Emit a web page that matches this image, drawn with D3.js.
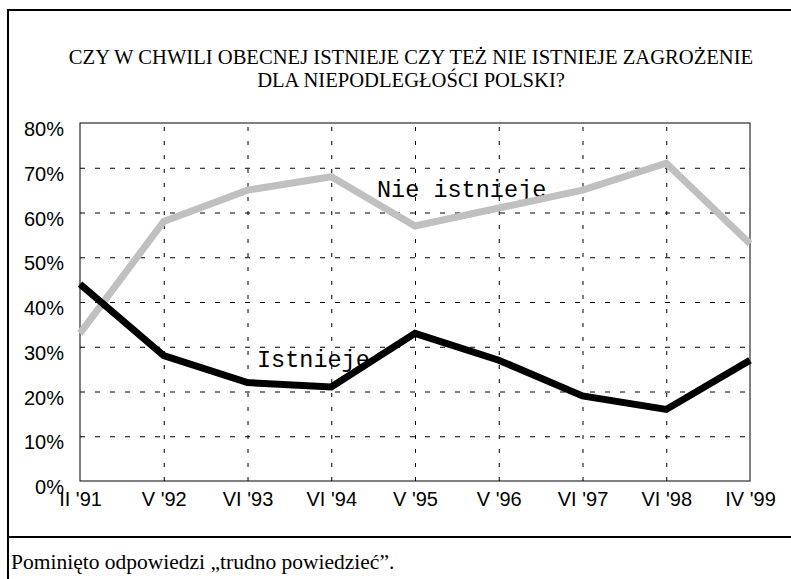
<!DOCTYPE html>
<html>
<head>
<meta charset="utf-8">
<script src="https://cdn.jsdelivr.net/npm/d3@7"></script>
<style>
  html, body { margin: 0; padding: 0; background: #fff; }
  svg { display: block; }
</style>
</head>
<body>
<svg id="chart" width="791" height="579"></svg>
<script>
const categories = ["II '91", "V '92", "VI '93", "VI '94", "V '95", "V '96", "VI '97", "VI '98", "IV '99"];
const nieIstnieje = [33, 58, 65, 68, 57, 61, 65, 71, 53];
const istnieje = [44, 28, 22, 21, 33, 27, 19, 16, 27];
const yTicks = [0, 10, 20, 30, 40, 50, 60, 70, 80];
const titleLines = ["CZY W CHWILI OBECNEJ ISTNIEJE CZY TEŻ NIE ISTNIEJE ZAGROŻENIE", "DLA NIEPODLEGŁOŚCI POLSKI?"];
const footnote = "Pominięto odpowiedzi „trudno powiedzieć”.";
const seriesNames = ["Nie istnieje", "Istnieje"];

const svg = d3.select("#chart");
const W = 791, H = 579;
const plot = { left: 80, right: 750, top: 123, bottom: 481 };

// outer frame
svg.append("path")
  .attr("d", `M${W + 5},10 H8 V${H + 5}`)
  .attr("fill", "none").attr("stroke", "#000").attr("stroke-width", 2);
svg.append("line")
  .attr("x1", 8).attr("x2", W + 5).attr("y1", 537).attr("y2", 537)
  .attr("stroke", "#000").attr("stroke-width", 2);

// title
const title = svg.append("text")
  .attr("font-family", "'Liberation Serif', 'Times New Roman', serif")
  .attr("font-size", 20.6)
  .attr("text-anchor", "middle")
  .attr("fill", "#000");
titleLines.forEach((t, i) => {
  title.append("tspan").attr("x", 411).attr("y", 64 + i * 22.5).text(t);
});

// footnote
svg.append("text")
  .attr("x", 11).attr("y", 569)
  .attr("font-family", "'Liberation Serif', 'Times New Roman', serif")
  .attr("font-size", 21.5)
  .attr("fill", "#000")
  .text(footnote);

const x = d3.scalePoint().domain(categories).range([plot.left, plot.right]).padding(0);
const y = d3.scaleLinear().domain([0, 80]).range([plot.bottom, plot.top]);

// horizontal grid
const gy = svg.append("g")
  .attr("transform", `translate(${plot.left},0)`)
  .call(d3.axisLeft(y).tickValues(yTicks.slice(1, -1)).tickSize(-(plot.right - plot.left)).tickFormat(""));
gy.select(".domain").remove();
gy.selectAll(".tick line").attr("stroke", "#000").attr("stroke-width", 1).attr("stroke-dasharray", "5,10");

// vertical grid
const gx = svg.append("g")
  .attr("transform", `translate(0,${plot.bottom})`)
  .call(d3.axisBottom(x).tickValues(categories.slice(1, -1)).tickSize(-(plot.bottom - plot.top)).tickFormat(""));
gx.select(".domain").remove();
gx.selectAll(".tick line").attr("stroke", "#000").attr("stroke-width", 1).attr("stroke-dasharray", "4,10");

// plot frame
svg.append("rect")
  .attr("x", plot.left).attr("y", plot.top)
  .attr("width", plot.right - plot.left).attr("height", plot.bottom - plot.top)
  .attr("fill", "none").attr("stroke", "#000").attr("stroke-width", 1);

// y axis labels
const ya = svg.append("g")
  .attr("transform", `translate(${plot.left},0)`)
  .call(d3.axisLeft(y).tickValues(yTicks).tickSize(0).tickPadding(16).tickFormat(d => d + "%"));
ya.select(".domain").remove();
ya.selectAll("text")
  .attr("font-family", "'Liberation Sans', Arial, sans-serif")
  .attr("font-size", 20).attr("fill", "#000").attr("dy", "0.68em").attr("y", -1);

// x axis labels
const xa = svg.append("g")
  .attr("transform", `translate(0,${plot.bottom})`)
  .call(d3.axisBottom(x).tickSize(0).tickPadding(11));
xa.select(".domain").remove();
xa.selectAll("text")
  .attr("font-family", "'Liberation Sans', Arial, sans-serif")
  .attr("font-size", 20).attr("fill", "#000");

// series labels
const labelFont = "'Liberation Mono', 'Courier New', monospace";
svg.append("text").attr("x", 377).attr("y", 197)
  .attr("font-family", labelFont).attr("font-size", 23.5).attr("fill", "#000")
  .text(seriesNames[0]);
svg.append("text").attr("x", 257).attr("y", 367)
  .attr("font-family", labelFont).attr("font-size", 23.5).attr("fill", "#000")
  .text(seriesNames[1]);

// lines
const line = d3.line().x((d, i) => x(categories[i])).y(d => y(d));
svg.append("path").datum(nieIstnieje)
  .attr("d", line).attr("fill", "none")
  .attr("stroke", "#c0c0c0").attr("stroke-width", 7).attr("stroke-linejoin", "miter");
svg.append("path").datum(istnieje)
  .attr("d", line).attr("fill", "none")
  .attr("stroke", "#000").attr("stroke-width", 7).attr("stroke-linejoin", "miter");
</script>
</body>
</html>
